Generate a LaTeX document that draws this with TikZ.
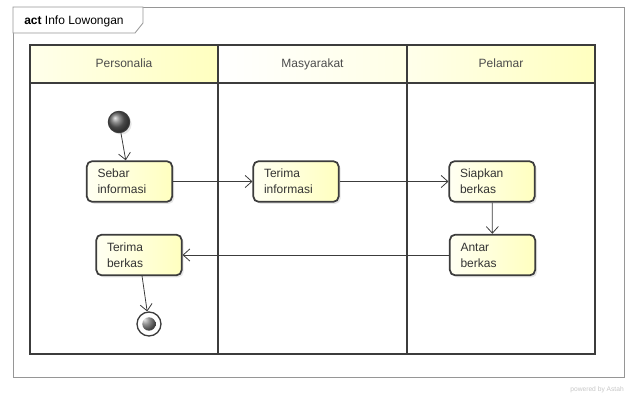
\documentclass[tikz,border=0pt]{standalone}
\usepackage{fontspec}
\setmainfont{Liberation Sans}
\usetikzlibrary{arrows.meta,shadows}
\definecolor{edgegray}{RGB}{60,60,60}
\definecolor{framegray}{RGB}{150,150,150}

\begin{document}
\begin{tikzpicture}[x=0.75pt,y=-0.75pt,>={Straight Barb[length=5pt,width=9pt]},
  font=\fontsize{9}{12}\selectfont,
  action/.style={draw=edgegray,line width=1.3pt,rounded corners=4pt,left color=yellow!5,right color=yellow!25,
    minimum width=64pt,minimum height=30.5pt,text width=48pt,align=left,text=black!80,
    drop shadow={opacity=0.2,shadow xshift=1.5pt,shadow yshift=-1.5pt}},
  startstate/.style={circle,draw=edgegray,line width=0.8pt,minimum size=16pt,inner sep=0pt,ball color=gray!80!black,
    drop shadow={opacity=0.2,shadow xshift=1.5pt,shadow yshift=-1.5pt}},
  endstate/.style={circle,draw=edgegray,fill=white,line width=1pt,minimum size=18pt,inner sep=0pt,
    path picture={\shade[ball color=gray!80!black] (path picture bounding box.center) circle (5pt);}},
  lanehead/.style={text=black!70,text height=7pt,text depth=2pt},
  flow/.style={->,draw=edgegray,line width=0.6pt}]
\useasboundingbox (0,0) rectangle (630,396);
\draw[framegray,line width=0.6pt] (13,7) rectangle (624,377);
\draw[framegray,line width=0.6pt,fill=white] (13,7) -- (143,7) -- (143,23) -- (135,33) -- (13,33) -- cycle;
\node[anchor=west,inner sep=0pt] (title) at (24,21) {\textbf{act} Info Lowongan};
\shade[left color=yellow!8,right color=yellow!25] (30,45) rectangle (218,83);
\shade[left color=white,right color=yellow!10] (218,45) rectangle (407,83);
\shade[left color=yellow!8,right color=yellow!25] (407,45) rectangle (595,83);
\draw[edgegray,line width=1.5pt] (30,45) rectangle (595,354);
\draw[edgegray,line width=1.5pt] (30,83) -- (595,83);
\draw[edgegray,line width=1.5pt] (218,45) -- (218,354);
\draw[edgegray,line width=1.5pt] (407,45) -- (407,354);
\node[lanehead] (personalia) at (124,64) {Personalia};
\node[lanehead] (masyarakat) at (312.5,64) {Masyarakat};
\node[lanehead] (pelamar) at (501,64) {Pelamar};
\node[startstate] (init) at (119,122) {};
\node[action] (sebar) at (129.5,181.5) {Sebar\\informasi};
\node[action] (terimainfo) at (296,181.5) {Terima\\informasi};
\node[action] (siapkan) at (492,181.5) {Siapkan\\berkas};
\node[action] (antar) at (492.5,255) {Antar\\berkas};
\node[action] (terimaberkas) at (139,255) {Terima\\berkas};
\node[endstate] (fin) at (149,324) {};
\draw[flow] (init) -- (sebar);
\draw[flow] (sebar) -- (terimainfo);
\draw[flow] (terimainfo) -- (siapkan);
\draw[flow] (siapkan) -- (antar);
\draw[flow] (antar) -- (terimaberkas);
\draw[flow] (terimaberkas) -- (fin);
\node[anchor=east,inner sep=0pt,font=\fontsize{5}{6}\selectfont,text=gray!45] (powered) at (624,390) {powered by Astah};
\end{tikzpicture}
\end{document}
